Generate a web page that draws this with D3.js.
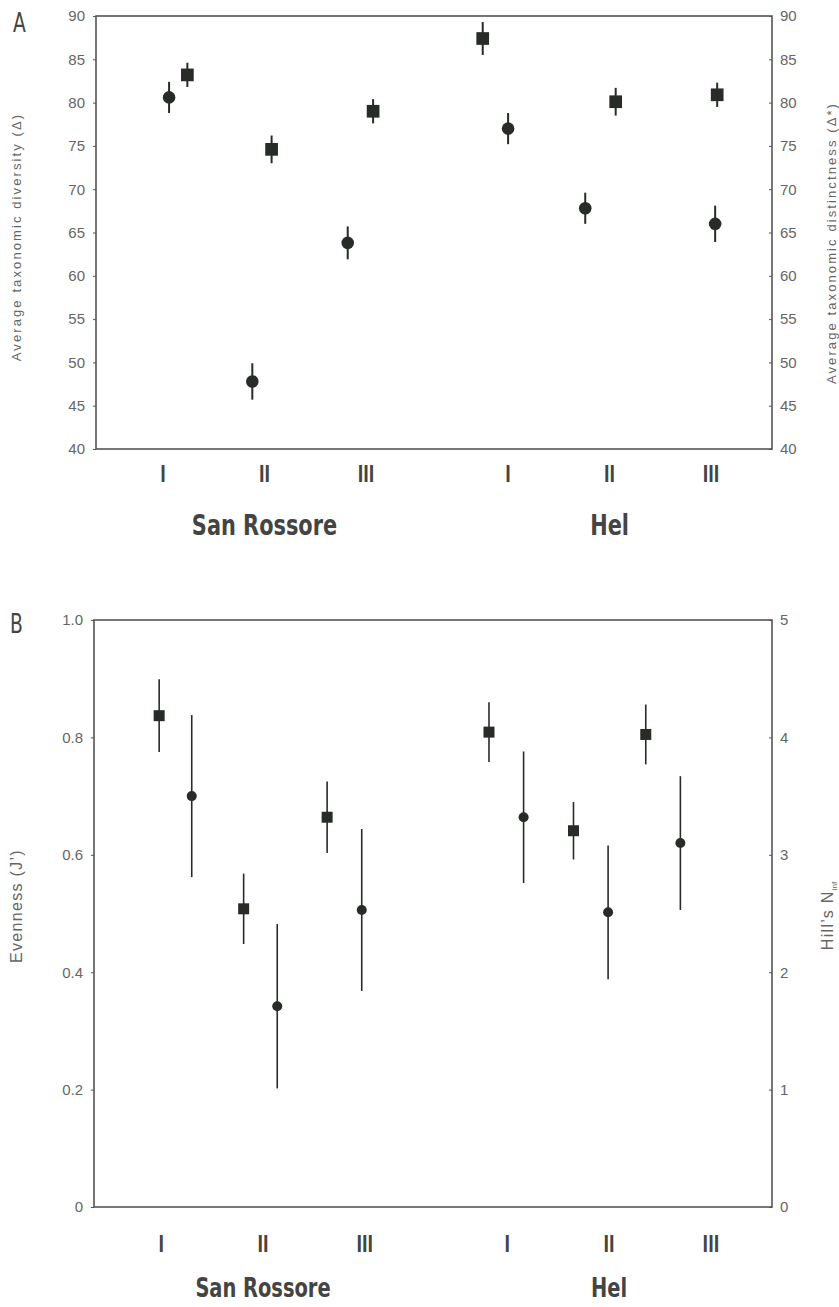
<!DOCTYPE html>
<html>
<head>
<meta charset="utf-8">
<script src="https://cdn.jsdelivr.net/npm/d3@7"></script>
<style>
  body { margin: 0; background: #fff; }
  svg text { font-family: "Liberation Sans", Arial, sans-serif; }
</style>
</head>
<body>
<div id="chart"></div>
<script>
// Sites (tick labels + position along x in site units)
const sites = ["I", "II", "III", "I", "II", "III"];
const sitePos = [1, 2, 3, 4.4, 5.4, 6.4];
const groups = ["San Rossore", "Hel"];
const groupPos = [2, 5.4];

// Panel A: Delta (circles) and Delta* (squares)
const deltaX = [1.06, 1.88, 2.82, 4.40, 5.16, 6.44];
const deltaVal = [80.6, 47.8, 63.8, 77.0, 67.8, 66.0];
const deltaErr = [1.8, 2.1, 1.9, 1.8, 1.8, 2.1];
const deltaStarX = [1.24, 2.07, 3.07, 4.15, 5.46, 6.46];
const deltaStarVal = [83.2, 74.6, 79.0, 87.4, 80.1, 80.9];
const deltaStarErr = [1.4, 1.6, 1.4, 1.9, 1.6, 1.4];
const ticksA = [40, 45, 50, 55, 60, 65, 70, 75, 80, 85, 90];

// Panel B: evenness J' (squares, left axis) and Hill's N (circles, right axis)
const evenX = [0.98, 1.81, 2.63, 4.22, 5.05, 5.76];
const evenVal = [0.837, 0.508, 0.664, 0.809, 0.641, 0.805];
const evenErr = [0.062, 0.060, 0.061, 0.051, 0.049, 0.051];
const hillX = [1.30, 2.14, 2.97, 4.56, 5.39, 6.10];
const hillVal = [3.50, 1.71, 2.53, 3.32, 2.51, 3.10];
const hillErr = [0.69, 0.70, 0.69, 0.56, 0.57, 0.57];
const ticksBL = [0, 0.2, 0.4, 0.6, 0.8, 1.0];
const ticksBR = [0, 1, 2, 3, 4, 5];

const W = 839, H = 1307;
const ink = "#272d26";
const grey = "#555";
const labelFont = "'DejaVu Sans Condensed', 'DejaVu Sans', sans-serif";

const svg = d3.select("#chart").append("svg")
  .attr("width", W).attr("height", H);

function panel(cfg) {
  const x = d3.scaleLinear().domain([0.34, 7.0]).range([cfg.left, cfg.right]);
  const yL = d3.scaleLinear().domain(cfg.yLdom).range([cfg.bottom, cfg.top]);
  const yR = d3.scaleLinear().domain(cfg.yRdom).range([cfg.bottom, cfg.top]);

  // box
  svg.append("rect")
    .attr("x", cfg.left).attr("y", cfg.top)
    .attr("width", cfg.right - cfg.left).attr("height", cfg.bottom - cfg.top)
    .attr("fill", "none").attr("stroke", grey).attr("stroke-width", 1.6);

  const axL = svg.append("g").attr("transform", `translate(${cfg.left},0)`)
    .call(d3.axisLeft(yL).tickValues(cfg.ticksL).tickSize(3).tickPadding(8).tickFormat(cfg.fmtL));
  const axR = svg.append("g").attr("transform", `translate(${cfg.right},0)`)
    .call(d3.axisRight(yR).tickValues(cfg.ticksR).tickSize(-3).tickPadding(8).tickFormat(cfg.fmtR));
  [axL, axR].forEach(a => {
    a.select(".domain").remove();
    a.selectAll("line").attr("stroke", grey);
    a.selectAll("text").attr("fill", "#666").style("font-size", "15px");
  });

  // site labels (bold, narrow)
  svg.append("g").selectAll("text").data(sites).join("text")
    .attr("transform", (d, i) => `translate(${x(sitePos[i])},${cfg.bottom + cfg.romanDy}) scale(0.72,1)`)
    .attr("text-anchor", "middle").attr("fill", "#444")
    .style("font-family", labelFont)
    .style("font-weight", "bold").style("font-size", "23px")
    .text(d => d);
  svg.append("g").selectAll("text").data(groups).join("text")
    .attr("transform", (d, i) => `translate(${x(groupPos[i])},${cfg.bottom + cfg.groupDy}) scale(0.8,1)`)
    .attr("text-anchor", "middle").attr("fill", "#444")
    .style("font-family", labelFont)
    .style("font-weight", "bold").style("font-size", cfg.groupSize)
    .text(d => d);

  // panel letter
  svg.append("text")
    .attr("transform", `translate(${cfg.letterX},${cfg.letterY}) scale(0.8,1)`)
    .attr("fill", "#444").style("font-size", "26px")
    .style("font-family", labelFont)
    .text(cfg.letter);

  // axis titles
  svg.append("text")
    .attr("transform", `translate(${cfg.titleLx},${cfg.titleLy}) rotate(-90)`)
    .attr("text-anchor", "middle").attr("fill", "#666")
    .style("font-size", cfg.titleSize).style("letter-spacing", cfg.titleSpacing)
    .text(cfg.titleL);
  const tr = svg.append("text")
    .attr("transform", `translate(${cfg.titleRx},${cfg.titleRy}) rotate(-90)`)
    .attr("text-anchor", "middle").attr("fill", "#666")
    .style("font-size", cfg.titleSize).style("letter-spacing", cfg.titleSpacing);
  tr.append("tspan").text(cfg.titleR);
  if (cfg.titleRsub) tr.append("tspan").attr("dy", 4).style("font-size", "8px")
    .style("letter-spacing", "0px").text(cfg.titleRsub);

  // series
  cfg.series.forEach(s => {
    const y = s.axis === "L" ? yL : yR;
    const pts = s.vals.map((v, i) => ({ x: s.xs[i], v: v, e: s.errs[i] }));
    const g = svg.append("g");
    g.selectAll("line").data(pts).join("line")
      .attr("x1", d => x(d.x)).attr("x2", d => x(d.x))
      .attr("y1", d => y(d.v + d.e)).attr("y2", d => y(d.v - d.e))
      .attr("stroke", ink).attr("stroke-width", cfg.barW);
    if (s.shape === "circle") {
      g.selectAll("circle").data(pts).join("circle")
        .attr("cx", d => x(d.x)).attr("cy", d => y(d.v))
        .attr("r", cfg.circleR).attr("fill", ink);
    } else {
      g.selectAll("rect").data(pts).join("rect")
        .attr("x", d => x(d.x) - cfg.sq / 2).attr("y", d => y(d.v) - cfg.sq / 2)
        .attr("width", cfg.sq).attr("height", cfg.sq).attr("fill", ink);
    }
  });
}

panel({
  letter: "A", letterX: 13, letterY: 32,
  left: 96, right: 772, top: 16, bottom: 449,
  romanDy: 33, groupDy: 86, groupSize: "29px",
  yLdom: [40, 90], yRdom: [40, 90], ticksL: ticksA, ticksR: ticksA,
  fmtL: d3.format("d"), fmtR: d3.format("d"),
  titleL: "Average taxonomic diversity (Δ)", titleLx: 21, titleLy: 237,
  titleR: "Average taxonomic distinctness (Δ*)", titleRx: 836, titleRy: 243,
  titleSize: "13px", titleSpacing: "2.1px",
  barW: 2, circleR: 6.3, sq: 12.7,
  series: [
    { shape: "circle", axis: "L", xs: deltaX, vals: deltaVal, errs: deltaErr },
    { shape: "square", axis: "R", xs: deltaStarX, vals: deltaStarVal, errs: deltaStarErr }
  ]
});

panel({
  letter: "B", letterX: 10, letterY: 633,
  left: 94, right: 772, top: 620, bottom: 1207,
  romanDy: 45, groupDy: 90, groupSize: "27px",
  yLdom: [0, 1], yRdom: [0, 5], ticksL: ticksBL, ticksR: ticksBR,
  fmtL: d => d === 0 ? "0" : d3.format(".1f")(d), fmtR: d3.format("d"),
  titleL: "Evenness (J’)", titleLx: 22, titleLy: 906,
  titleR: "Hill’s N", titleRsub: "inf", titleRx: 833, titleRy: 916,
  titleSize: "16px", titleSpacing: "1.3px",
  barW: 1.6, circleR: 5, sq: 11,
  series: [
    { shape: "square", axis: "L", xs: evenX, vals: evenVal, errs: evenErr },
    { shape: "circle", axis: "R", xs: hillX, vals: hillVal, errs: hillErr }
  ]
});
</script>
</body>
</html>
